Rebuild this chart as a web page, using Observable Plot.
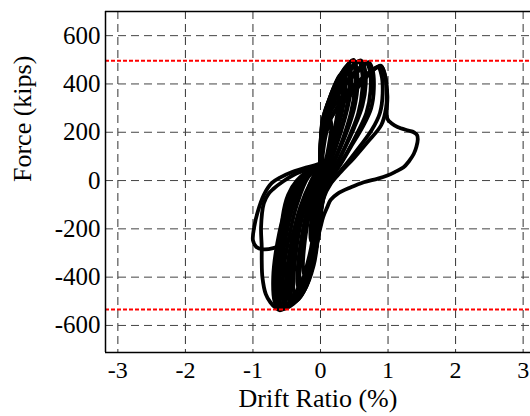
<!DOCTYPE html>
<html>
<head>
<meta charset="utf-8">
<script src="https://cdn.jsdelivr.net/npm/d3@7"></script>
<script src="https://cdn.jsdelivr.net/npm/@observablehq/plot@0.6"></script>
<style>
  html, body { margin: 0; padding: 0; background: #fff; overflow: hidden; }
  #chart svg { display: block; }
</style>
</head>
<body>
<div id="chart"></div>
<script>
// ---- tick labels and reference lines ----
const xTicks = [-3, -2, -1, 0, 1, 2, 3];
const yTicks = [-600, -400, -200, 0, 200, 400, 600];
const capacityLines = [496, -534];
const xTitle = "Drift Ratio (%)";
const yTitle = "Force (kips)";

// ---- hysteresis paths: [drift ratio %, force kips] ----
const cycle1 = [[0,0],[0.03,100],[0.08,190],[0.15,250],[0.16,220],[0.12,140],[0.06,60],[0,0],[-0.04,-60],
  [-0.08,-150],[-0.12,-220],[-0.14,-250],[-0.15,-220],[-0.12,-130],[-0.07,-50],[-0.03,0],[0,20]];
const cycle2 = [[0,20],[0,120],[0.04,230],[0.13,320],[0.25,385],[0.27,350],[0.24,260],[0.16,160],[0.08,70],
  [0.01,0],[-0.04,-60],[-0.08,-170],[-0.14,-280],[-0.2,-350],[-0.24,-390],[-0.26,-360],[-0.24,-270],
  [-0.18,-160],[-0.1,-60],[-0.04,0],[0,30]];
const cycle3 = [[0,30],[0,140],[0.03,250],[0.12,330],[0.24,410],[0.34,448],[0.37,420],[0.36,350],[0.3,260],
  [0.2,160],[0.1,70],[0.02,0],[-0.03,-70],[-0.07,-190],[-0.14,-310],[-0.22,-400],[-0.3,-455],[-0.34,-430],
  [-0.33,-340],[-0.27,-220],[-0.18,-100],[-0.08,-10],[0,40]];
const cycle3b = [[0,35],[0.01,160],[0.06,270],[0.16,360],[0.3,440],[0.33,410],[0.31,320],[0.24,220],[0.14,120],
  [0.05,30],[-0.02,-40],[-0.06,-160],[-0.13,-290],[-0.2,-380],[-0.28,-440],[-0.31,-410],[-0.29,-300],
  [-0.22,-180],[-0.13,-70],[-0.05,10],[0,35]];
const cycle4 = [[0,40],[0,150],[0.04,260],[0.15,350],[0.28,430],[0.42,480],[0.45,450],[0.45,380],[0.4,300],
  [0.3,200],[0.18,100],[0.08,20],[0,-60],[-0.05,-180],[-0.12,-310],[-0.22,-410],[-0.32,-470],[-0.4,-495],
  [-0.44,-460],[-0.43,-360],[-0.36,-230],[-0.25,-110],[-0.12,0],[0,50]];
const cycle4b = [[0,45],[0.01,170],[0.08,280],[0.2,380],[0.32,445],[0.4,470],[0.43,440],[0.42,360],[0.35,260],
  [0.24,160],[0.12,60],[0.03,-20],[-0.02,-110],[-0.08,-250],[-0.17,-370],[-0.27,-450],[-0.36,-480],
  [-0.4,-450],[-0.38,-340],[-0.31,-200],[-0.2,-80],[-0.08,20],[0,50]];
const cycle5 = [[0,50],[0,150],[0.05,260],[0.17,350],[0.3,440],[0.42,485],[0.49,500],[0.53,470],[0.55,400],
  [0.5,300],[0.4,210],[0.27,120],[0.14,40],[0.04,-20],[-0.02,-100],[-0.06,-220],[-0.14,-350],[-0.26,-450],
  [-0.38,-500],[-0.48,-520],[-0.52,-490],[-0.5,-380],[-0.42,-240],[-0.3,-110],[-0.15,-10],[0,55]];
const cycle5b = [[0,50],[0.02,190],[0.1,300],[0.24,400],[0.37,465],[0.47,495],[0.51,465],[0.51,380],[0.45,280],
  [0.34,180],[0.2,80],[0.08,0],[0,-80],[-0.04,-200],[-0.1,-330],[-0.2,-430],[-0.32,-490],[-0.44,-505],
  [-0.47,-470],[-0.45,-360],[-0.37,-220],[-0.25,-90],[-0.1,20],[0,55]];
const cycle6 = [[0,55],[0.02,200],[0.12,300],[0.3,410],[0.45,470],[0.6,497],[0.65,470],[0.67,400],[0.62,310],
  [0.5,220],[0.35,130],[0.2,50],[0.08,-10],[0,-100],[-0.04,-230],[-0.12,-360],[-0.25,-460],[-0.4,-510],
  [-0.55,-530],[-0.6,-500],[-0.6,-400],[-0.53,-260],[-0.42,-120],[-0.25,0],[-0.08,50],[0,55]];
const cycle6b = [[0,55],[0.03,200],[0.14,310],[0.3,400],[0.45,460],[0.57,490],[0.61,460],[0.62,380],[0.56,280],
  [0.44,190],[0.3,100],[0.16,25],[0.05,-40],[-0.01,-130],[-0.06,-260],[-0.16,-390],[-0.3,-475],[-0.42,-510],
  [-0.52,-520],[-0.56,-490],[-0.55,-380],[-0.47,-240],[-0.35,-100],[-0.18,15],[0,58]];
const cycle7 = [[0,60],[0.03,200],[0.15,300],[0.35,390],[0.55,450],[0.71,490],[0.77,460],[0.79,380],[0.75,300],
  [0.62,220],[0.45,140],[0.28,60],[0.12,0],[0.03,-70],[0,-150],[-0.05,-260],[-0.15,-380],[-0.3,-470],
  [-0.47,-520],[-0.6,-535],[-0.65,-505],[-0.66,-410],[-0.6,-270],[-0.5,-140],[-0.35,-30],[-0.15,40],[0,60]];
const cycle7b = [[0,58],[0.04,210],[0.18,320],[0.38,410],[0.55,460],[0.68,485],[0.73,455],[0.74,370],[0.68,280],
  [0.55,200],[0.4,120],[0.24,45],[0.1,-20],[0.02,-100],[-0.03,-220],[-0.1,-350],[-0.24,-455],[-0.42,-510],
  [-0.57,-525],[-0.62,-495],[-0.62,-390],[-0.56,-250],[-0.44,-110],[-0.28,0],[-0.1,50],[0,60]];
const cycle8 = [[0,60],[0.05,180],[0.2,280],[0.4,340],[0.6,400],[0.75,450],[0.89,476],[0.95,440],[0.98,370],
  [0.97,300],[0.9,230],[0.7,160],[0.5,95],[0.3,35],[0.15,-14],[0.05,-70],[0,-150],[-0.06,-270],
  [-0.18,-400],[-0.35,-480],[-0.5,-515],[-0.62,-532],[-0.68,-500],[-0.7,-400],[-0.64,-260],[-0.52,-120],
  [-0.36,-20],[-0.15,45],[0,62]];
const cycle8b = [[0,60],[0.06,200],[0.24,300],[0.45,370],[0.62,420],[0.76,455],[0.85,470],[0.9,440],[0.92,360],
  [0.88,280],[0.76,210],[0.58,140],[0.4,75],[0.22,15],[0.08,-40],[0.01,-120],[-0.04,-240],[-0.14,-370],
  [-0.3,-465],[-0.47,-510],[-0.6,-525],[-0.64,-495],[-0.65,-390],[-0.58,-250],[-0.46,-110],[-0.3,-10],
  [-0.12,45],[0,62]];
const failure = [[0,65],[0.04,200],[0.18,300],[0.4,370],[0.6,420],[0.78,460],[0.9,472],[0.96,430],
  [0.99,350],[0.99,256],[1.06,235],[1.14,222],[1.3,207],[1.38,200],[1.43,188],[1.44,170],[1.42,140],
  [1.38,110],[1.31,80],[1.23,55],[1.1,35],[0.99,21],[0.85,8],[0.64,-7],[0.45,-28],[0.25,-55],[0.15,-80],
  [0.1,-110],[0.04,-150],[0,-193],[-0.12,-317],[-0.3,-427],[-0.45,-505],[-0.59,-535],[-0.55,-525],
  [-0.5,-470],[-0.51,-400],[-0.55,-330],[-0.58,-250],[-0.56,-150],[-0.48,-60],[-0.35,0],[-0.15,45],[0,65]];
const innerLeft = [[0,62],[-0.15,50],[-0.35,30],[-0.55,-3],[-0.7,-35],[-0.77,-55],[-0.84,-95],[-0.88,-193],
  [-0.87,-276],[-0.87,-331],[-0.86,-400],[-0.81,-470],[-0.74,-505],[-0.66,-528],[-0.6,-537],[-0.55,-525],
  [-0.5,-480]];
const finalLoop = [[0.05,75],[0,70],[-0.2,55],[-0.42,35],[-0.6,12],[-0.72,-10],[-0.84,-60],[-0.93,-130],
  [-0.98,-190],[-1.0,-248],[-0.95,-275],[-0.85,-285],[-0.7,-280],[-0.55,-262],[-0.45,-240],[-0.38,-200],
  [-0.32,-150]];

const paths = {cycle1, cycle2, cycle3, cycle3b, cycle4, cycle4b, cycle5, cycle5b, cycle6, cycle6b,
  cycle7, cycle7b, cycle8, cycle8b, failure, innerLeft, finalLoop};
const rows = Object.entries(paths).flatMap(([id, pts]) => pts.map(([x, y]) => ({id, x, y})));

const xDomain = [-3.183, 3.109];
const yDomain = [-712, 700];

const chart = Plot.plot({
  width: 530,
  height: 416,
  marginLeft: 105,
  marginRight: 0,
  marginTop: 11,
  marginBottom: 64,
  x: {domain: xDomain},
  y: {domain: yDomain},
  style: {fontFamily: "'Liberation Serif', 'Times New Roman', serif", fontSize: "25px", background: "#fff", color: "#000", overflow: "visible"},
  marks: [
    Plot.gridX(xTicks, {stroke: "#333", strokeOpacity: 1, strokeWidth: 1, strokeDasharray: "8,5"}),
    Plot.gridY(yTicks, {stroke: "#444", strokeOpacity: 1, strokeWidth: 1, strokeDasharray: "8,5"}),
    Plot.line(rows, {x: "x", y: "y", z: "id", stroke: "#000", strokeWidth: 3.8, curve: "catmull-rom", strokeLinejoin: "round", strokeLinecap: "round"}),
    Plot.ruleY(capacityLines, {stroke: "#f00", strokeWidth: 2, strokeDasharray: "4,2"}),
    Plot.ruleX([xDomain[0]], {stroke: "#000", strokeWidth: 1.5}),
    Plot.ruleY(yDomain, {stroke: "#000", strokeWidth: 1.5}),
    Plot.axisX(xTicks, {tickSize: 0, tickPadding: 8, fontSize: 24, label: null, tickFormat: d => `${d}`}),
    Plot.axisY(yTicks, {tickSize: 0, tickPadding: 5, fontSize: 25, label: null, tickFormat: d => `${d}`}),
    Plot.text([xTitle], {text: d => d, frameAnchor: "bottom", lineAnchor: "bottom", dy: 54, fontSize: 26}),
    Plot.text([yTitle], {text: d => d, frameAnchor: "left", rotate: -90, lineAnchor: "bottom", dx: -75, fontSize: 26})
  ]
});
document.getElementById("chart").appendChild(chart);
</script>
</body>
</html>
